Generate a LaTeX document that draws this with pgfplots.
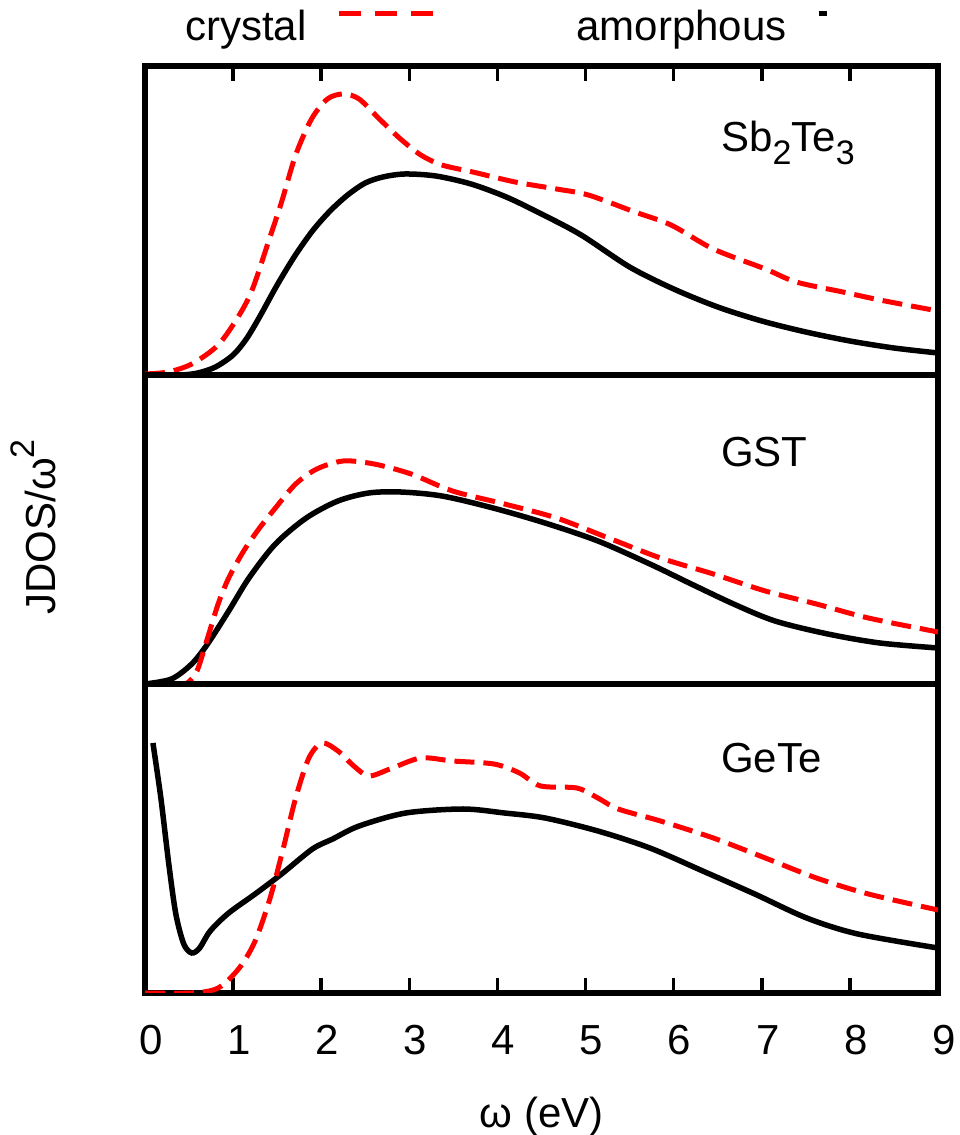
\documentclass[border=0pt]{standalone}
\usepackage{pgfplots}
\pgfplotsset{compat=1.18}
\usepackage{fontspec}
\setmainfont{Liberation Sans}

\newcommand\bigfont{\fontsize{42}{48}\selectfont}
\newcommand\lowidx[1]{\raisebox{-0.3em}{\fontsize{34}{34}\selectfont #1}}
\newcommand\highidx[1]{\raisebox{0.5em}{\fontsize{34}{34}\selectfont #1}}

\pgfplotsset{
  panel/.style={
    width=793pt, height=309pt, scale only axis,
    xmin=0, xmax=9, ymin=0, ymax=309,
    ytick=\empty,
    axis line style={line width=5.5pt},
    /pgf/number format/assume math mode=true,
    ticklabel style={font=\bigfont},
  },
  crys/.style={red, line width=5pt, dash pattern=on 20pt off 9pt, smooth},
  amor/.style={black, line width=5.5pt, smooth},
  crysleg/.style={legend image code/.code={\draw[red, line width=5pt, dash pattern=on 22pt off 14pt] (0pt,13pt) -- (94pt,13pt);}},
  amorleg/.style={legend image code/.code={\draw[black, line width=5.5pt] (0pt,13pt) -- (8pt,13pt);}},
}

\begin{document}
\begin{tikzpicture}

% Sb2Te3
\begin{axis}[panel, at={(145pt,760pt)},
  xtick={0,...,9}, xtick pos=right, xticklabels={},
  tick align=inside, major tick length=15pt,
  xtick style={black, line width=3.5pt},
  legend columns=2, legend plot pos=right,
  legend style={draw=none, fill=none, inner sep=0pt,
    at={(axis description cs:0.0504,1.128)}, anchor=west,
    font=\bigfont, nodes={inner sep=0pt},
    /tikz/every odd column/.append style={column sep=30pt},
    /tikz/every even column/.append style={column sep=141pt}},
]
\addlegendimage{crysleg}\addlegendentry{crystal}
\addlegendimage{amorleg}\addlegendentry{amorphous}
\addplot[amor, forget plot] coordinates {
(0,0) (0.40,0) (0.60,2) (0.80,8) (1.00,20) (1.15,36) (1.30,58) (1.50,90)
(1.70,119) (1.90,144) (2.10,164) (2.30,180) (2.50,192) (2.70,198) (2.95,201)
(3.30,199) (3.70,191) (4.10,178) (4.50,161) (4.95,140) (5.50,108) (6.00,86)
(6.50,68) (7.00,54) (7.50,43) (8.00,34) (8.50,27) (9.00,22)};
\addplot[crys, forget plot] coordinates {
(0,1) (0.26,3) (0.53,11) (0.83,30) (1.07,60) (1.22,86) (1.40,133) (1.55,173)
(1.71,220) (1.89,256) (2.07,276) (2.25,281) (2.43,276) (2.66,256) (2.90,236)
(3.13,220) (3.37,210) (3.72,203) (4.20,193) (4.67,186) (5.03,180) (5.56,163)
(5.97,150) (6.45,126) (7.04,106) (7.39,93) (7.92,83) (8.34,75) (9.00,64)};
\node[anchor=base west, font=\bigfont] at (axis cs:6.5,223) {Sb\lowidx{2}Te\lowidx{3}};
\end{axis}

% GST
\begin{axis}[panel, at={(145pt,451pt)}, xtick=\empty]
\addplot[amor] coordinates {
(0,0) (0.30,5) (0.53,20) (0.71,40) (0.95,73) (1.18,106) (1.48,140) (1.83,166)
(2.19,183) (2.54,191) (2.90,192) (3.37,188) (3.95,176) (4.54,161) (5.14,143)
(5.73,120) (6.20,100) (6.68,80) (7.15,63) (7.75,50) (8.34,41) (9.00,36)};
\addplot[crys] coordinates {
(0,0) (0.40,0) (0.48,1) (0.59,13) (0.71,46) (0.83,80) (0.95,106) (1.12,133)
(1.30,156) (1.48,176) (1.71,200) (1.95,215) (2.25,223) (2.60,220) (3.02,210)
(3.49,193) (4.08,180) (4.67,166) (5.26,146) (5.85,126) (6.45,110) (7.04,93)
(7.62,80) (8.21,66) (9.00,52)};
\node[anchor=base west, font=\bigfont] at (axis cs:6.5,217) {GST};
\end{axis}

% GeTe
\begin{axis}[panel, at={(145pt,142pt)},
  xtick={0,...,9}, xtick pos=left,
  tick align=inside, major tick length=15pt,
  xtick style={black, line width=3.5pt},
  xticklabel style={anchor=base, yshift=-62pt, xshift=6pt, inner sep=0pt},
]
\addplot[amor] coordinates {
(0.09,250) (0.18,195) (0.27,129) (0.35,79) (0.44,49) (0.53,40) (0.62,45)
(0.74,62) (0.95,80) (1.25,99) (1.55,119) (1.90,144) (2.13,154) (2.43,167)
(2.96,180) (3.61,184) (4.08,180) (4.54,175) (5.14,162) (5.73,145) (6.33,122)
(6.92,99) (7.51,75) (8.09,59) (9.00,45)};
\addplot[crys] coordinates {
(0,0) (0.53,0) (0.83,5) (1.07,25) (1.25,52) (1.42,95) (1.57,145) (1.71,195)
(1.86,235) (2.01,250) (2.19,242) (2.37,227) (2.54,217) (2.78,224) (3.13,235)
(3.49,232) (3.96,229) (4.25,220) (4.49,207) (4.90,205) (5.14,195) (5.37,184)
(5.85,172) (6.45,155) (7.04,135) (7.62,115) (8.21,99) (9.00,83)};
\node[anchor=base west, font=\bigfont] at (axis cs:6.5,220) {GeTe};
\end{axis}

% axis titles
\node[anchor=base, font=\bigfont] at (541.5pt,8pt) {ω (eV)};
\node[anchor=base, rotate=90, font=\bigfont] at (55pt,608pt) {JDOS/ω\highidx{2}};

% page frame
\pgfresetboundingbox
\useasboundingbox (0pt,0pt) rectangle (960pt,1135pt);
\end{tikzpicture}
\end{document}
